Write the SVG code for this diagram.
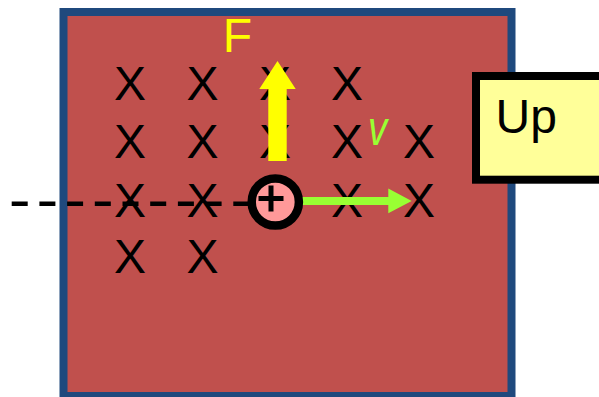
<svg xmlns="http://www.w3.org/2000/svg" width="599" height="397" viewBox="0 0 599 397">
  <style>
    .x { font-family: "Liberation Sans", Arial, sans-serif; font-size: 48px; fill: #000; text-anchor: middle; }
    .lbl { font-family: "Liberation Sans", Arial, sans-serif; font-size: 48px; }
  </style>
  <rect width="599" height="397" fill="#ffffff"/>
  <g id="field">
    <rect x="63.5" y="12" width="448" height="384" fill="#C0504D" stroke="#1F497D" stroke-width="8"/>
  </g>
  <g id="crosses">
    <text class="x" x="130" y="100">X</text>
    <text class="x" x="202.5" y="100">X</text>
    <text class="x" x="275" y="100">X</text>
    <text class="x" x="347" y="100">X</text>
    <text class="x" x="130" y="158">X</text>
    <text class="x" x="202.5" y="158">X</text>
    <text class="x" x="275" y="158">X</text>
    <text class="x" x="347" y="158">X</text>
    <text class="x" x="419" y="158">X</text>
    <text class="x" x="130" y="216.5">X</text>
    <text class="x" x="202.5" y="216.5">X</text>
    <text class="x" x="347" y="216.5">X</text>
    <text class="x" x="419" y="216.5">X</text>
    <text class="x" x="130" y="273">X</text>
    <text class="x" x="202.5" y="273">X</text>
  </g>
  <g id="connectors">
    <line x1="11.7" y1="203.8" x2="250" y2="203.8" stroke="#000" stroke-width="4.5" stroke-dasharray="16 11.7"/>
    <polygon points="268.3,161 268.3,89 259.3,89 277.5,61 295.7,89 286.7,89 286.7,161" fill="#FFFF00"/>
    <polygon points="300,197 388.3,197 388.3,188.5 411.7,201 388.3,213.3 388.3,205 300,205" fill="#99FF33"/>
  </g>
  <g id="charge">
    <circle cx="275.3" cy="202" r="23.6" fill="#FF9999" stroke="#000" stroke-width="8.5"/>
    <path d="M258.5 198.5 H283.5 M271 185.5 V211.5" stroke="#000" stroke-width="5" fill="none"/>
  </g>
  <g id="label-F">
    <text class="lbl" x="222.8" y="51.7" fill="#FFFF00">F</text>
  </g>
  <g id="label-v">
    <text class="lbl" x="0" y="0" fill="#99FF33" font-style="italic" font-size="43" transform="translate(368,145) scale(0.8,1)">v</text>
  </g>
  <g id="up-box">
    <rect x="476" y="76" width="140" height="103.7" fill="#FFFF99" stroke="#000" stroke-width="8"/>
    <text class="lbl" x="495.5" y="132.7" fill="#000">Up</text>
  </g>
</svg>
